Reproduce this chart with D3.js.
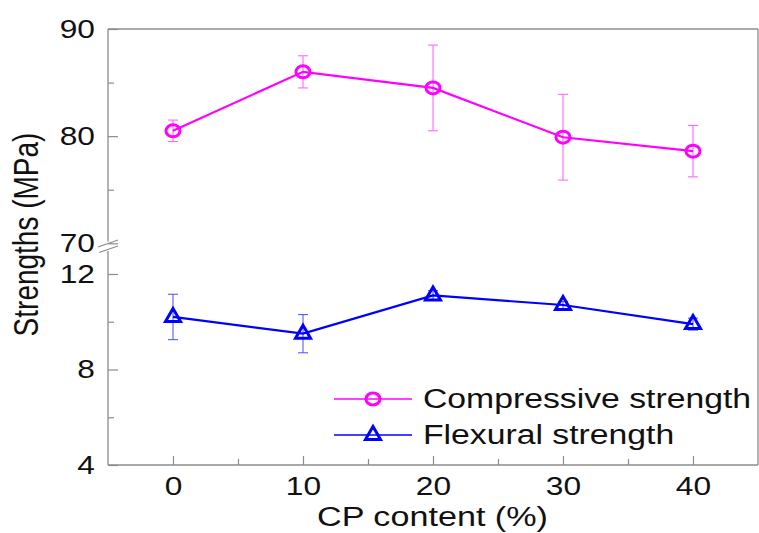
<!DOCTYPE html>
<html>
<head>
<meta charset="utf-8">
<script src="https://cdn.jsdelivr.net/npm/d3@7"></script>
<style>
  body { margin: 0; background: #fff; }
  svg { display: block; font-family: "Liberation Sans", Arial, Helvetica, sans-serif; }
</style>
</head>
<body>
<div id="chart"></div>
<script>
// data
const cpContent = [0, 10, 20, 30, 40];
const compressive = [80.5, 86.0, 84.5, 79.9, 78.6];
const compressiveErr = [1.0, 1.5, 4.0, 4.0, 2.4];
const flexural = [10.2, 9.5, 11.1, 10.7, 9.9];
const flexuralErr = [0.95, 0.8, 0.2, 0.15, 0.25];

const xMajor = [0, 10, 20, 30, 40];
const xMinor = [5, 15, 25, 35];
const yTopMajor = [70, 80, 90];
const yTopMinor = [75, 85];
const yBotMajor = [4, 8, 12];
const yBotMinor = [6, 10];

const W = 759, H = 533;
const pLeft = 108, pRight = 758, pTop = 29, pBottom = 465;
const stretch = 1.22; // glyphs in the source look horizontally stretched

const svg = d3.select('#chart').append('svg')
  .attr('width', W).attr('height', H);

const x = d3.scaleLinear().domain([-5, 45]).range([pLeft, pRight]);
const yTop = d3.scaleLinear().domain([70, 90]).range([243.3, pTop]);
const yBot = d3.scaleLinear().domain([4, 13]).range([pBottom, 250.1]);

const axisColor = '#8c8c8c';
const magenta = '#ff00ff';
const blue = '#0000ff';

function styleAxis(g) {
  g.select('.domain').remove();
  g.selectAll('.tick line').attr('stroke', axisColor).attr('stroke-width', 1.2);
  g.selectAll('.tick text')
    .attr('fill', '#111')
    .style('font-size', '26px');
}

// left axis, upper part
svg.append('g')
  .attr('transform', `translate(${pLeft},0)`)
  .call(d3.axisLeft(yTop).tickValues(yTopMajor).tickSizeInner(-10).tickSizeOuter(0).tickPadding(10.7))
  .call(styleAxis)
  .call(g => g.selectAll('.tick text').attr('transform', `scale(${stretch},1)`));
svg.append('g')
  .attr('transform', `translate(${pLeft},0)`)
  .call(d3.axisLeft(yTop).tickValues(yTopMinor).tickSizeInner(-6).tickSizeOuter(0).tickFormat(''))
  .call(styleAxis);

// left axis, lower part
svg.append('g')
  .attr('transform', `translate(${pLeft},0)`)
  .call(d3.axisLeft(yBot).tickValues(yBotMajor).tickSizeInner(-10).tickSizeOuter(0).tickPadding(10.7))
  .call(styleAxis)
  .call(g => g.selectAll('.tick text').attr('transform', `scale(${stretch},1)`));
svg.append('g')
  .attr('transform', `translate(${pLeft},0)`)
  .call(d3.axisLeft(yBot).tickValues(yBotMinor).tickSizeInner(-6).tickSizeOuter(0).tickFormat(''))
  .call(styleAxis);

// bottom axis
svg.append('g')
  .attr('transform', `translate(0,${pBottom})`)
  .call(d3.axisBottom(x).tickValues(xMajor).tickSizeInner(-9).tickSizeOuter(0).tickPadding(11.5))
  .call(styleAxis)
  .call(g => g.selectAll('.tick text').attr('transform', `scale(${stretch},1)`));
svg.append('g')
  .attr('transform', `translate(0,${pBottom})`)
  .call(d3.axisBottom(x).tickValues(xMinor).tickSizeInner(-6).tickSizeOuter(0).tickFormat(''))
  .call(styleAxis);

// frame with the break on the left axis
const frame = svg.append('g').attr('stroke', axisColor).attr('stroke-width', 1.3).attr('fill', 'none');
frame.append('line').attr('x1', pLeft).attr('x2', pRight).attr('y1', pTop).attr('y2', pTop);
frame.append('line').attr('x1', pRight).attr('x2', pRight).attr('y1', pTop).attr('y2', pBottom);
frame.append('line').attr('x1', pLeft).attr('x2', pRight).attr('y1', pBottom).attr('y2', pBottom);
frame.append('line').attr('x1', pLeft).attr('x2', pLeft).attr('y1', pTop).attr('y2', 241.5);
frame.append('line').attr('x1', pLeft).attr('x2', pLeft).attr('y1', 251).attr('y2', pBottom);
frame.append('line').attr('x1', pLeft - 10).attr('x2', pLeft + 10).attr('y1', 247).attr('y2', 240);
frame.append('line').attr('x1', pLeft - 9).attr('x2', pLeft + 10).attr('y1', 252.5).attr('y2', 246);

// axis titles
svg.append('text')
  .attr('transform', `translate(${432.5},526) scale(${stretch},1)`)
  .attr('text-anchor', 'middle')
  .style('font-size', '28px')
  .attr('fill', '#111')
  .text('CP content (%)');

svg.append('text')
  .attr('transform', `translate(38,234.5) rotate(-90) scale(1,${stretch})`)
  .attr('text-anchor', 'middle')
  .style('font-size', '28px')
  .attr('fill', '#111')
  .text('Strengths (MPa)');

// series
const compData = cpContent.map((c, i) => ({x: c, y: compressive[i], e: compressiveErr[i]}));
const flexData = cpContent.map((c, i) => ({x: c, y: flexural[i], e: flexuralErr[i]}));

const trianglePath = 'M0,-8.5L7.5,4.5L-7.5,4.5Z';

function drawSeries(data, y, color, errColor, marker) {
  let g = svg.append('g');
  let err = g.append('g').attr('stroke', errColor).attr('stroke-width', 1.1);
  data.forEach(d => {
    err.append('line').attr('x1', x(d.x)).attr('x2', x(d.x)).attr('y1', y(d.y - d.e)).attr('y2', y(d.y + d.e));
    err.append('line').attr('x1', x(d.x) - 5).attr('x2', x(d.x) + 5).attr('y1', y(d.y - d.e)).attr('y2', y(d.y - d.e));
    err.append('line').attr('x1', x(d.x) - 5).attr('x2', x(d.x) + 5).attr('y1', y(d.y + d.e)).attr('y2', y(d.y + d.e));
  });
  g.append('path')
    .datum(data)
    .attr('fill', 'none')
    .attr('stroke', color)
    .attr('stroke-width', 2.2)
    .attr('d', d3.line().x(d => x(d.x)).y(d => y(d.y)));
  g.selectAll('.mk')
    .data(data)
    .enter()
    .append('g')
      .attr('transform', d => `translate(${x(d.x)},${y(d.y)})`)
      .call(marker, color);
}

function circleMarker(sel, color) {
  sel.append('ellipse').attr('rx', 7).attr('ry', 6)
    .attr('fill', 'none').attr('stroke', color).attr('stroke-width', 3);
}
function triangleMarker(sel, color) {
  sel.append('path').attr('d', trianglePath)
    .attr('fill', 'none').attr('stroke', color).attr('stroke-width', 3).attr('stroke-linejoin', 'miter');
}

drawSeries(compData, yTop, magenta, '#ff66ff', circleMarker);
drawSeries(flexData, yBot, blue, '#5a5aff', triangleMarker);

// legend
const legendItems = [
  {label: 'Compressive strength', color: magenta, marker: circleMarker, y: 399},
  {label: 'Flexural strength', color: blue, marker: triangleMarker, y: 435}
];
const legend = svg.append('g');
legendItems.forEach(item => {
  legend.append('line')
    .attr('x1', 334).attr('x2', 412)
    .attr('y1', item.y).attr('y2', item.y)
    .attr('stroke', item.color).attr('stroke-width', 1.6);
  legend.append('g')
    .attr('transform', `translate(373,${item.y})`)
    .call(item.marker, item.color);
  legend.append('text')
    .attr('transform', `translate(423,${item.y + 9}) scale(1.25,1)`)
    .style('font-size', '27px')
    .attr('fill', '#111')
    .text(item.label);
});
</script>
</body>
</html>
